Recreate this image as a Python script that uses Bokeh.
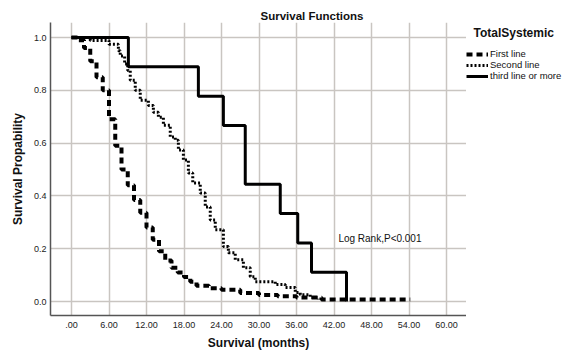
from bokeh.plotting import figure
from bokeh.layouts import row
from bokeh.models import Range1d, FixedTicker, Legend, LegendItem, Label
from bokeh.embed import file_html
from bokeh.resources import INLINE

# ---- data ----
first_t = [0, 1, 2, 3, 4, 5, 6, 7, 8, 9, 10, 11, 12, 13, 14, 15, 16, 17, 18, 19, 20, 22, 24, 27, 30, 33, 36, 40, 54.2]
first_s = [1.0, 0.99, 0.96, 0.91, 0.85, 0.80, 0.69, 0.59, 0.50, 0.44, 0.385, 0.336, 0.28, 0.234, 0.19, 0.155,
           0.128, 0.11, 0.093, 0.075, 0.06, 0.05, 0.045, 0.032, 0.025, 0.02, 0.015, 0.008, 0.008]

second_t = [0, 3, 6, 7.5, 7.8, 8.5, 9, 9.4, 10.2, 11, 12.3, 13.1, 13.9, 14.7, 15.8, 16.6, 17.1, 17.9, 18.7,
            19.4, 20.6, 21.4, 22.2, 23.0, 24.3, 25.1, 26.2, 27.5, 28.6, 29.4, 32.6, 34.2, 35.8, 36.6, 38.2, 39.5]
second_s = [1.0, 0.989, 0.975, 0.95, 0.93, 0.90, 0.875, 0.838, 0.80, 0.762, 0.743, 0.717, 0.698, 0.668, 0.623,
            0.611, 0.574, 0.536, 0.487, 0.449, 0.411, 0.358, 0.309, 0.272, 0.208, 0.185, 0.158, 0.128, 0.094,
            0.075, 0.064, 0.053, 0.034, 0.026, 0.015, 0.008]

third_t = [0, 9.1, 20.3, 24.3, 27.8, 33.4, 36.2, 38.4, 44.0]
third_s = [1.0, 0.889, 0.778, 0.667, 0.444, 0.333, 0.222, 0.111, 0.0]

group_names = ["First line", "Second line", "third line or more"]
legend_title = "TotalSystemic"

x_ticks = [0, 6, 12, 18, 24, 30, 36, 42, 48, 54, 60]
x_labels = [".00", "6.00", "12.00", "18.00", "24.00", "30.00", "36.00", "42.00", "48.00", "54.00", "60.00"]
y_ticks = [0.0, 0.2, 0.4, 0.6, 0.8, 1.0]
y_labels = ["0.0", "0.2", "0.4", "0.6", "0.8", "1.0"]

FONT = "Liberation Sans"
STYLES = [dict(line_color="black", line_width=4, line_dash="6 4"),
          dict(line_color="black", line_width=3, line_dash="2 2"),
          dict(line_color="black", line_width=3)]

p = figure(width=466, height=352, output_backend="svg", toolbar_location=None,
           x_range=Range1d(-3.36, 63.2), y_range=Range1d(-0.053, 1.057),
           min_border_left=50, min_border_right=0, min_border_top=22, min_border_bottom=36)
p.outline_line_color = None
p.background_fill_color = "white"

p.title.text = "Survival Functions"
p.title.align = "left"
p.title.text_font = FONT
p.title.text_font_size = "11.5px"
p.title.text_font_style = "bold"
p.title.text_color = "#111111"
p.title.offset = 210
p.title.standoff = 2

for ax in (p.xaxis[0], p.yaxis[0]):
    ax.major_tick_line_color = None
    ax.minor_tick_line_color = None
    ax.major_tick_out = 0
    ax.major_tick_in = 0
    ax.minor_tick_out = 0
    ax.axis_line_color = "#555555"
    ax.axis_line_width = 1.5
    ax.major_label_text_font = FONT
    ax.major_label_text_font_size = "9px"
    ax.major_label_text_color = "#222222"
    ax.axis_label_text_font = FONT
    ax.axis_label_text_font_size = "12px"
    ax.axis_label_text_font_style = "bold"
    ax.axis_label_text_color = "#111111"

p.xaxis.ticker = FixedTicker(ticks=x_ticks)
p.xaxis.major_label_overrides = {t: l for t, l in zip(x_ticks, x_labels)}
p.xaxis.axis_label = "Survival (months)"
p.xaxis.major_label_standoff = 6
p.xaxis.axis_label_standoff = 5

p.yaxis.ticker = FixedTicker(ticks=y_ticks)
p.yaxis.major_label_overrides = {t: l for t, l in zip(y_ticks, y_labels)}
p.yaxis.axis_label = "Survival Propability"
p.yaxis.major_label_standoff = 4
p.yaxis.axis_label_standoff = 6

p.xgrid.ticker = FixedTicker(ticks=x_ticks)
p.ygrid.ticker = FixedTicker(ticks=y_ticks)
p.grid.grid_line_color = "#c9c5c1"
p.grid.grid_line_width = 1.5

series_t = [first_t, second_t, third_t]
series_s = [first_s, second_s, third_s]
for t, s, st in zip(series_t, series_s, STYLES):
    p.step(t, s, mode="after", **st)

p.add_layout(Label(x=42.7, y=0.238, text="Log Rank,P<0.001", text_font=FONT, text_font_size="10px",
                   text_baseline="middle", text_color="#111111"))

# ---- legend panel (its glyphs sit outside this panel's visible range) ----
lg = figure(width=103, height=352, output_backend="svg", toolbar_location=None,
            x_range=Range1d(-20, -19), y_range=Range1d(-20, -19),
            min_border_left=0, min_border_right=0, min_border_top=0, min_border_bottom=0)
lg.axis.visible = False
lg.grid.visible = False
lg.outline_line_color = None

items = []
for name, t, s, st in zip(group_names, series_t, series_s, STYLES):
    r = lg.step(t, s, mode="after", **st)
    items.append(LegendItem(label=name, renderers=[r]))

lg.add_layout(Label(x=7, y=283, x_units="screen", y_units="screen", text=legend_title,
                    text_font=FONT, text_font_size="12px", text_font_style="bold",
                    text_baseline="middle", text_color="#111111"))

legend = Legend(items=items, label_text_font=FONT, label_text_font_size="9.5px", label_height=10,
                label_text_color="#111111",
                glyph_width=22, glyph_height=10, label_standoff=2, spacing=0,
                padding=0, margin=0, border_line_color=None, background_fill_alpha=0,
                location=(0, 234))
lg.add_layout(legend)

layout = row(p, lg, spacing=0)
open("out.html", "w").write(file_html(layout, INLINE))
